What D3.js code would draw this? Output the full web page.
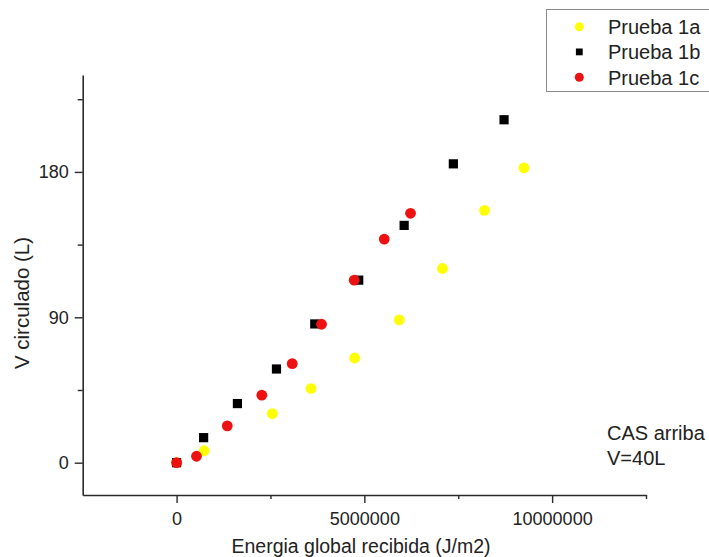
<!DOCTYPE html>
<html>
<head>
<meta charset="utf-8">
<script src="https://cdn.jsdelivr.net/npm/d3@7"></script>
<style>
  html, body { margin: 0; padding: 0; background: #fff; }
  svg { display: block; }
  .tick-label { font-family: "Liberation Sans Narrow", "Arial Narrow", "Liberation Sans", Arial, sans-serif; font-stretch: condensed; font-size: 18px; fill: #222; }
  .txt { font-family: "Liberation Sans", Arial, sans-serif; fill: #222; }
</style>
</head>
<body>
<svg id="chart" width="709" height="557"></svg>
<script>
// Series: energy received (J/m2) vs circulated volume (L)
const seriesNames = ["Prueba 1a", "Prueba 1b", "Prueba 1c"];

const energia1a = [0, 735000, 2550000, 3580000, 4740000, 5930000, 7080000, 8200000, 9250000];
const volumen1a = [0, 7.4, 30.4, 45.9, 64.8, 88.4, 120.2, 156.2, 182.5];

const energia1b = [0, 720000, 1620000, 2660000, 3680000, 4850000, 6060000, 7370000, 8720000];
const volumen1b = [0, 15.5, 36.6, 58.0, 85.9, 113.0, 146.9, 185.0, 212.3];

const energia1c = [0, 530000, 1350000, 2270000, 3080000, 3860000, 4730000, 5530000, 6230000];
const volumen1c = [0, 4.0, 22.8, 41.8, 61.3, 85.7, 113.0, 138.4, 154.4];

const xMajorTicks = [0, 5000000, 10000000];
const xMinorTicks = [2500000, 7500000, 12500000];
const yMajorTicks = [0, 90, 180];
const yMinorTicks = [45, 135, 225];

const svg = d3.select("#chart");

const x = d3.scaleLinear().domain([-2500000, 12500000]).range([82.7, 646]);
const y = d3.scaleLinear().domain([-20, 240]).range([495, 75]);

const axisColor = "#2a2a2a";

// X axis
const gx = svg.append("g").attr("transform", `translate(0,${y.range()[0]})`);
gx.call(d3.axisBottom(x).tickValues(xMajorTicks).tickSize(8).tickSizeOuter(0).tickPadding(9)
  .tickFormat(d3.format("d")));
gx.append("g").call(d3.axisBottom(x).tickValues(xMinorTicks).tickSize(4).tickSizeOuter(0).tickFormat(""))
  .select(".domain").remove();

// Y axis
const gy = svg.append("g").attr("transform", `translate(${x.range()[0]},0)`);
gy.call(d3.axisLeft(y).tickValues(yMajorTicks).tickSize(8).tickSizeOuter(0).tickPadding(6)
  .tickFormat(d3.format("d")));
gy.append("g").call(d3.axisLeft(y).tickValues(yMinorTicks).tickSize(5).tickSizeOuter(0).tickFormat(""))
  .select(".domain").remove();

svg.selectAll(".domain").attr("stroke", axisColor).attr("stroke-width", 1.6);
svg.selectAll(".tick line").attr("stroke", axisColor).attr("stroke-width", 1.4);
svg.selectAll(".tick text").attr("class", "tick-label").attr("font-size", null).attr("font-family", null);
gx.selectAll("g.tick text").attr("dy", "0.71em");

// Axis titles
svg.append("text").attr("class", "txt")
  .attr("x", 361).attr("y", 553)
  .attr("text-anchor", "middle").attr("font-size", 19.5)
  .text("Energia global recibida (J/m2)");

svg.append("text").attr("class", "txt")
  .attr("transform", "translate(29,303) rotate(-90)")
  .attr("text-anchor", "middle").attr("font-size", 20.5)
  .text("V circulado (L)");

// Markers
const plot = svg.append("g");
const toPoints = (xs, ys) => xs.map((e, i) => ({ e, v: ys[i] }));

plot.selectAll("circle.s1a").data(toPoints(energia1a, volumen1a)).join("circle")
  .attr("class", "s1a")
  .attr("cx", d => x(d.e)).attr("cy", d => y(d.v)).attr("r", 5.4)
  .attr("fill", "#ffff00");

plot.selectAll("rect.s1b").data(toPoints(energia1b, volumen1b)).join("rect")
  .attr("class", "s1b")
  .attr("x", d => x(d.e) - 4.6).attr("y", d => y(d.v) - 4.6)
  .attr("width", 9.2).attr("height", 9.2)
  .attr("fill", "#000");

plot.selectAll("circle.s1c").data(toPoints(energia1c, volumen1c)).join("circle")
  .attr("class", "s1c")
  .attr("cx", d => x(d.e)).attr("cy", d => y(d.v)).attr("r", 5.4)
  .attr("fill", "#ee1111");

// Annotation
const note = svg.append("text").attr("class", "txt").attr("font-size", 20);
note.append("tspan").attr("x", 607).attr("y", 439.5).text("CAS arriba");
note.append("tspan").attr("x", 607).attr("y", 464.5).text("V=40L");

// Legend
const legend = svg.append("g");
legend.append("rect")
  .attr("x", 546.5).attr("y", 9.5).attr("width", 180).attr("height", 82)
  .attr("fill", "#fff").attr("stroke", "#8a8a8a").attr("stroke-width", 1);

const legendRowsY = [26.7, 51.9, 77.3];
const legendColors = ["#ffff00", "#000", "#ee1111"];
seriesNames.forEach((name, i) => {
  const cy = legendRowsY[i];
  if (i === 1) {
    legend.append("rect").attr("x", 579.3 - 3.4).attr("y", cy - 3.4)
      .attr("width", 6.8).attr("height", 6.8).attr("fill", legendColors[i]);
  } else {
    legend.append("circle").attr("cx", 579.3).attr("cy", cy).attr("r", 4.5)
      .attr("fill", legendColors[i]);
  }
  legend.append("text").attr("class", "txt")
    .attr("x", 608).attr("y", cy).attr("dy", "0.36em")
    .attr("font-size", 20).text(name);
});
</script>
</body>
</html>
